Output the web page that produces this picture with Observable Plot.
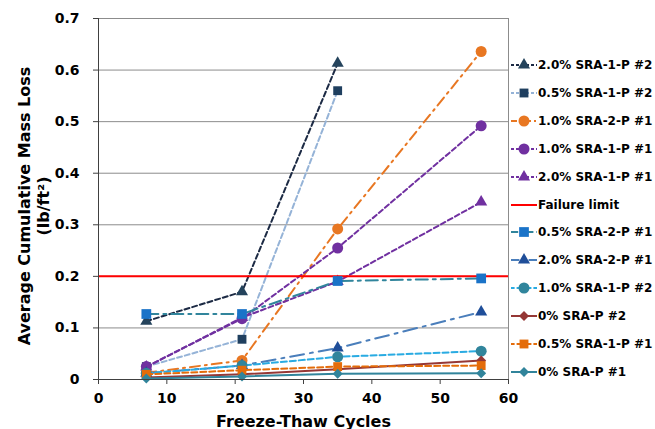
<!DOCTYPE html>
<html>
<head>
<meta charset="utf-8">
<script src="https://cdn.jsdelivr.net/npm/d3@7"></script>
<script src="https://cdn.jsdelivr.net/npm/@observablehq/plot@0.6"></script>
<style>
  html, body { margin: 0; padding: 0; background: #fff; }
  #wrap { position: relative; width: 655px; height: 429px; font-family: "DejaVu Sans", sans-serif; font-weight: bold; color: #000; }
  #ytitle { position: absolute; left: 34px; top: 206px; width: 320px; transform: translate(-50%, -50%) rotate(-90deg); text-align: center; font-size: 16px; line-height: 19px; white-space: nowrap; }
  .leg { position: absolute; left: 510px; height: 16px; display: flex; align-items: center; font-size: 12px; white-space: nowrap; }
  .leg svg { width: 28px; height: 14px; margin-right: 0px; }
</style>
</head>
<body>
<div id="wrap"></div>
<script>
// ---- data ----
const cycles = [7, 21, 35, 56];
const xTicks = [0, 10, 20, 30, 40, 50, 60];
const yTicks = [0, 0.1, 0.2, 0.3, 0.4, 0.5, 0.6, 0.7];
const failureLimit = 0.2;

const names = [
  "2.0% SRA-1-P #2", "0.5% SRA-1-P #2", "1.0% SRA-2-P #1", "1.0% SRA-1-P #1",
  "2.0% SRA-1-P #1", "Failure limit", "0.5% SRA-2-P #1", "2.0% SRA-2-P #1",
  "1.0% SRA-1-P #2", "0% SRA-P #2", "0.5% SRA-1-P #1", "0% SRA-P #1"
];
const v20_1P2 = [0.113, 0.170, 0.613];
const v05_1P2 = [0.025, 0.078, 0.560];
const v10_2P1 = [0.013, 0.037, 0.292, 0.636];
const v10_1P1 = [0.025, 0.118, 0.255, 0.492];
const v20_1P1 = [0.024, 0.120, 0.190, 0.344];
const v05_2P1 = [0.127, 0.127, 0.191, 0.196];
const v20_2P1 = [0.012, 0.027, 0.061, 0.131];
const v10_1P2 = [0.012, 0.027, 0.044, 0.055];
const v0_P2   = [0.004, 0.010, 0.020, 0.037];
const v05_1P1 = [0.010, 0.018, 0.025, 0.027];
const v0_P1   = [0.002, 0.006, 0.011, 0.012];

// ---- styles ----
const styles = {
  "2.0% SRA-1-P #2": {values: v20_1P2, line: "#1c2a44", fill: "#24435c", symbol: "triangle", dash: "5,3", r: 4.5},
  "0.5% SRA-1-P #2": {values: v05_1P2, line: "#95b3d7", fill: "#1f3f5f", symbol: "square", dash: "5,3", r: 5},
  "1.0% SRA-2-P #1": {values: v10_2P1, line: "#e87722", fill: "#e87722", symbol: "circle", dash: "10,5,2,5", r: 5.5},
  "1.0% SRA-1-P #1": {values: v10_1P1, line: "#7030a0", fill: "#7030a0", symbol: "circle", dash: "5,3", r: 5.5},
  "2.0% SRA-1-P #1": {values: v20_1P1, line: "#7030a0", fill: "#7030a0", symbol: "triangle", dash: "5,3", r: 4.5},
  "0.5% SRA-2-P #1": {values: v05_2P1, line: "#31859c", fill: "#1a73c8", symbol: "square", dash: "12,5,3,5", r: 5.5},
  "2.0% SRA-2-P #1": {values: v20_2P1, line: "#4a7ebb", fill: "#1f4e99", symbol: "triangle", dash: "14,6,3,6", r: 4.5},
  "1.0% SRA-1-P #2": {values: v10_1P2, line: "#29abe2", fill: "#31859c", symbol: "circle", dash: "6,3", r: 5.5},
  "0% SRA-P #2":     {values: v0_P2,   line: "#953735", fill: "#953735", symbol: "diamond2", dash: null, r: 4.5},
  "0.5% SRA-1-P #1": {values: v05_1P1, line: "#e46c0a", fill: "#e46c0a", symbol: "square", dash: "6,3", r: 5},
  "0% SRA-P #1":     {values: v0_P1,   line: "#31849b", fill: "#31849b", symbol: "diamond2", dash: null, r: 4.5}
};

const marks = [];
// grid
marks.push(Plot.ruleY(yTicks.filter(d => d > 0), {stroke: "#8c8c8c", strokeWidth: 1}));
marks.push(Plot.ruleX([60], {stroke: "#8c8c8c", strokeWidth: 1}));

for (const name of names) {
  if (name === "Failure limit") {
    marks.push(Plot.ruleY([failureLimit], {stroke: "#ff0000", strokeWidth: 2}));
    continue;
  }
  const s = styles[name];
  const data = s.values.map((v, i) => ({x: cycles[i], y: v}));
  marks.push(Plot.line(data, {x: "x", y: "y", stroke: s.line, strokeWidth: 2, strokeDasharray: s.dash || undefined}));
  marks.push(Plot.dot(data, {x: "x", y: "y", symbol: s.symbol, r: s.r, fill: s.fill, stroke: "none"}));
}

// axes
marks.push(Plot.ruleX([0], {stroke: "#404040", strokeWidth: 1}));
marks.push(Plot.ruleY([0], {stroke: "#404040", strokeWidth: 1}));
marks.push(Plot.axisY({ticks: yTicks, tickSize: 5, tickPadding: 14, tickFormat: d => d === 0 ? "0" : d.toFixed(1), label: null, fontSize: 14, fontWeight: "bold", stroke: "#404040"}));
marks.push(Plot.axisX({ticks: xTicks, tickSize: 5, tickPadding: 9, tickFormat: d => String(d), label: null, fontSize: 14, fontWeight: "bold", stroke: "#404040"}));
marks.push(Plot.text(["Freeze-Thaw Cycles"], {frameAnchor: "bottom", dy: 47, fontSize: 16, fontWeight: "bold", fill: "#000"}));

const chart = Plot.plot({
  width: 655,
  height: 429,
  marginLeft: 98,
  marginRight: 147,
  marginTop: 18,
  marginBottom: 50,
  x: {domain: [0, 60]},
  y: {domain: [0, 0.7]},
  style: {fontFamily: "DejaVu Sans, sans-serif", fontWeight: "bold", color: "#000", background: "#fff", overflow: "visible"},
  marks
});

const wrap = document.getElementById("wrap");
wrap.appendChild(chart);

const yt = document.createElement("div");
yt.id = "ytitle";
yt.innerHTML = "Average Cumulative Mass Loss<br>(lb/ft²)";
wrap.appendChild(yt);

// legend
const symbolMap = {circle: d3.symbolCircle, square: d3.symbolSquare, triangle: d3.symbolTriangle, diamond2: d3.symbolDiamond2};
names.forEach((name, i) => {
  const cy = 65 + i * 27.9;
  const item = document.createElement("div");
  item.className = "leg";
  item.style.top = (cy - 8) + "px";
  const svg = d3.create("svg").attr("viewBox", "0 0 28 14");
  if (name === "Failure limit") {
    svg.append("line").attr("x1", 1).attr("x2", 27).attr("y1", 7).attr("y2", 7).attr("stroke", "#ff0000").attr("stroke-width", 2);
  } else {
    const s = styles[name];
    svg.append("line").attr("x1", 1).attr("x2", 27).attr("y1", 7).attr("y2", 7)
      .attr("stroke", s.line).attr("stroke-width", 2).attr("stroke-dasharray", s.dash ? s.dash.split(",").map(v => Math.max(2, v * 0.6)).join(",") : null);
    const area = Math.PI * s.r * s.r * 1.0;
    svg.append("path").attr("transform", "translate(14,7)").attr("d", d3.symbol(symbolMap[s.symbol], area)()).attr("fill", s.fill);
  }
  item.appendChild(svg.node());
  const t = document.createElement("span");
  t.textContent = name;
  item.appendChild(t);
  wrap.appendChild(item);
});
</script>
</body>
</html>
